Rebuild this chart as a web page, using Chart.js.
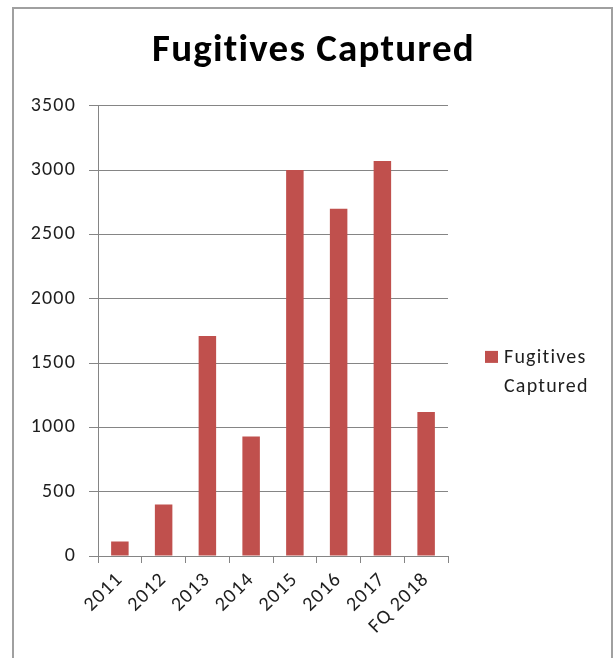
<!DOCTYPE html>
<html>
<head>
<meta charset="utf-8">
<script src="https://cdn.jsdelivr.net/npm/chart.js@4/dist/chart.umd.min.js"></script>
<style>
  html, body { margin: 0; padding: 0; background: #ffffff; }
  #wrap { position: relative; width: 614px; height: 658px; }
  canvas { display: block; }
</style>
</head>
<body>
<div id="wrap"><canvas id="c" width="614" height="658"></canvas></div>
<script>
// ---- data ----
const categories = ['2011', '2012', '2013', '2014', '2015', '2016', '2017', 'FQ 2018'];
const captured = [113, 400, 1710, 930, 3000, 2700, 3070, 1120];
const seriesName = 'Fugitives Captured';
const legendLines = ['Fugitives', 'Captured'];
const chartTitle = 'Fugitives Captured';
const yMin = 0, yMax = 3500, yStep = 500;

// ---- styles ----
const barColor = '#C0504D';
const gridColor = '#858585';
const textColor = '#1e1e1e';
const fontFamily = 'Carlito, Calibri, Lato, sans-serif';
const tickFont = { family: fontFamily, size: 20 };

const spacingPlugin = {
  id: 'spacing',
  beforeLayout(chart) { chart.ctx.letterSpacing = '1.2px'; },
  beforeDraw(chart) { chart.ctx.letterSpacing = '1.2px'; }
};

const framePlugin = {
  id: 'frame',
  beforeDraw(chart) {
    const ctx = chart.ctx;
    ctx.save();
    ctx.fillStyle = '#ffffff';
    ctx.fillRect(0, 0, chart.width, chart.height);
    ctx.strokeStyle = '#a0a0a0';
    ctx.lineWidth = 2;
    ctx.beginPath();
    ctx.moveTo(13, chart.height + 5);
    ctx.lineTo(13, 8);
    ctx.lineTo(612, 8);
    ctx.lineTo(612, chart.height + 5);
    ctx.stroke();
    ctx.restore();
  }
};

const sideLegend = {
  id: 'sideLegend',
  afterDraw(chart, args, opts) {
    const ctx = chart.ctx;
    const area = chart.chartArea;
    const ds = chart.data.datasets[0];
    const x0 = area.right + opts.offsetX;
    const lineH = opts.lineHeight;
    const firstBase = (area.top + area.bottom) / 2 + opts.offsetY;
    ctx.save();
    ctx.fillStyle = ds.backgroundColor;
    ctx.fillRect(x0, firstBase - 12, 13, 12);
    ctx.fillStyle = textColor;
    ctx.font = `${tickFont.size}px ${tickFont.family}`;
    ctx.textBaseline = 'alphabetic';
    ctx.textAlign = 'left';
    legendLines.forEach((t, i) => ctx.fillText(t, x0 + 19, firstBase + i * lineH));
    ctx.restore();
  }
};

new Chart(document.getElementById('c'), {
  type: 'bar',
  data: {
    labels: categories,
    datasets: [{
      label: seriesName,
      data: captured,
      backgroundColor: barColor,
      borderWidth: 0,
      barPercentage: 0.4,
      categoryPercentage: 1.0
    }]
  },
  options: {
    responsive: false,
    animation: false,
    layout: { padding: { left: 13, right: 0, top: 0, bottom: 2 } },
    plugins: {
      legend: { display: false },
      tooltip: { enabled: false },
      title: {
        display: true,
        text: chartTitle,
        color: '#000000',
        font: { family: fontFamily, size: 39, weight: 'bold', lineHeight: 1.2 },
        padding: { top: 28, bottom: 31 }
      },
      sideLegend: { offsetX: 37, offsetY: 32, lineHeight: 29 }
    },
    scales: {
      x: {
        grid: { display: true, drawOnChartArea: false, drawTicks: true, tickLength: 7, color: gridColor, offset: true },
        border: { display: true, color: gridColor, width: 1 },
        ticks: { color: textColor, font: tickFont, minRotation: 45, maxRotation: 45, padding: 5, autoSkip: false },
        afterFit(scale) { scale.height = 100; }
      },
      y: {
        min: yMin,
        max: yMax,
        ticks: { stepSize: yStep, color: textColor, font: tickFont, padding: 13,
                 callback: (v) => String(v) },
        grid: { color: gridColor, lineWidth: 1, drawTicks: true, tickLength: 9 },
        border: { display: true, color: gridColor, width: 1 },
        afterFit(scale) { scale.width = 85; }
      },
      legendSpace: {
        type: 'linear',
        position: 'right',
        display: true,
        grid: { display: false, drawTicks: false },
        border: { display: false },
        ticks: { display: false },
        afterFit(scale) { scale.width = 166; }
      }
    }
  },
  plugins: [spacingPlugin, framePlugin, sideLegend]
});
</script>
</body>
</html>
